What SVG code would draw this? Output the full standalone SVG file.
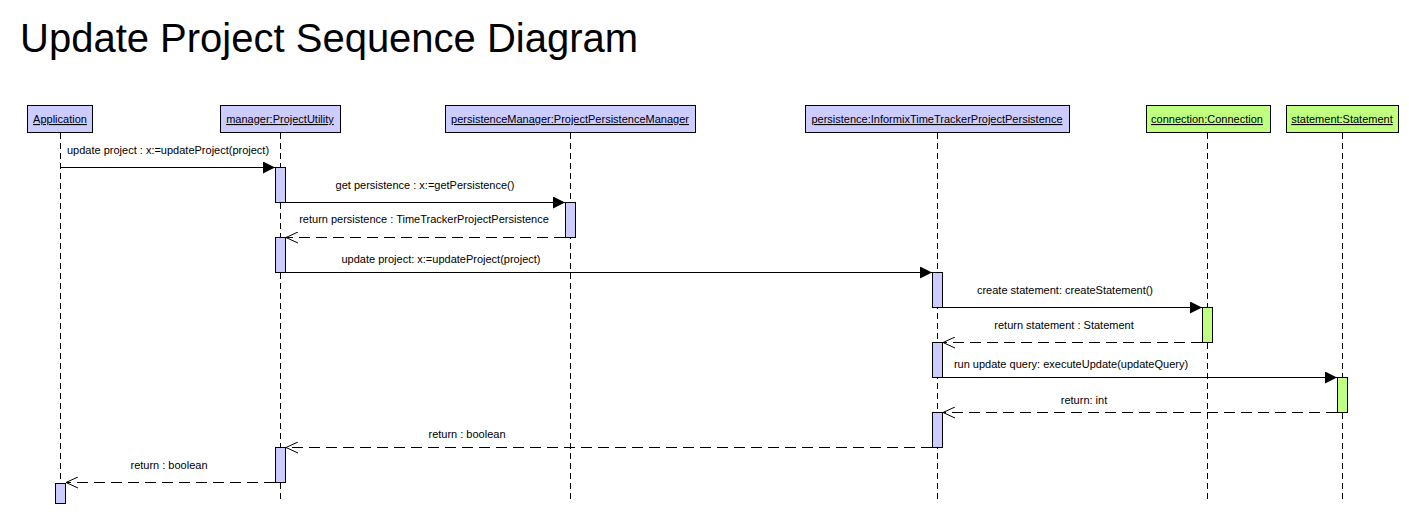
<svg xmlns="http://www.w3.org/2000/svg" width="1409" height="514" viewBox="0 0 1409 514">
<style>
text{font-family:"Liberation Sans",Arial,sans-serif;fill:#000}
.title{font-size:40px}
.lbl{font-size:11px;text-decoration:underline}
.msg{font-size:11px}
.box{fill:#CCCCFF;stroke:#000;stroke-width:1}
.gbox{fill:#C0FF80;stroke:#000;stroke-width:1}
.life{stroke:#000;stroke-width:1;stroke-dasharray:6,4;fill:none}
.act{fill:#CCCCFF;stroke:#000;stroke-width:1}
.gact{fill:#C0FF80;stroke:#000;stroke-width:1}
.call{stroke:#000;stroke-width:1;fill:none}
.ret{stroke:#000;stroke-width:1;fill:none;stroke-dasharray:11,6}
</style>
<defs>
<marker id="filled" markerWidth="13" markerHeight="12" refX="12" refY="6" orient="auto" markerUnits="userSpaceOnUse">
<path d="M0,0 L12,6 L0,12 Z" fill="#000"/>
</marker>
<marker id="open" markerWidth="13" markerHeight="12" refX="12" refY="6" orient="auto" markerUnits="userSpaceOnUse">
<path d="M0,0.5 L12,6 L0,11.5" fill="none" stroke="#000" stroke-width="1"/>
</marker>
</defs>
<rect width="1409" height="514" fill="#fff"/>
<text class="title" x="20" y="52">Update Project Sequence Diagram</text>

<g id="node-application">
<rect class="box" x="27.5" y="105.5" width="65" height="27"/>
<text class="lbl" x="60" y="123" text-anchor="middle">Application</text>
<line class="life" x1="60.5" y1="133" x2="60.5" y2="483"/>
<rect class="act" x="55.5" y="483.5" width="10" height="20"/>
</g>

<g id="node-manager">
<rect class="box" x="220.5" y="105.5" width="120" height="27"/>
<text class="lbl" x="280" y="123" text-anchor="middle">manager:ProjectUtility</text>
<line class="life" x1="280.5" y1="133" x2="280.5" y2="501"/>
<rect class="act" x="275.5" y="167.5" width="10" height="35"/>
<rect class="act" x="275.5" y="237.5" width="10" height="35"/>
<rect class="act" x="275.5" y="447.5" width="10" height="35"/>
</g>

<g id="node-persistenceManager">
<rect class="box" x="445.5" y="105.5" width="250" height="27"/>
<text class="lbl" x="570" y="123" text-anchor="middle">persistenceManager:ProjectPersistenceManager</text>
<line class="life" x1="570.5" y1="133" x2="570.5" y2="501"/>
<rect class="act" x="565.5" y="202.5" width="10" height="35"/>
</g>

<g id="node-persistence">
<rect class="box" x="805.5" y="105.5" width="264" height="27"/>
<text class="lbl" x="937" y="123" text-anchor="middle">persistence:InformixTimeTrackerProjectPersistence</text>
<line class="life" x1="937.5" y1="133" x2="937.5" y2="501"/>
<rect class="act" x="932.5" y="272.5" width="10" height="35"/>
<rect class="act" x="932.5" y="342.5" width="10" height="35"/>
<rect class="act" x="932.5" y="412.5" width="10" height="35"/>
</g>

<g id="node-connection">
<rect class="gbox" x="1146.5" y="105.5" width="124" height="27"/>
<text class="lbl" x="1207" y="123" text-anchor="middle">connection:Connection</text>
<line class="life" x1="1207.5" y1="133" x2="1207.5" y2="501"/>
<rect class="gact" x="1202.5" y="307.5" width="10" height="35"/>
</g>

<g id="node-statement">
<rect class="gbox" x="1286.5" y="105.5" width="112" height="27"/>
<text class="lbl" x="1342" y="123" text-anchor="middle">statement:Statement</text>
<line class="life" x1="1342.5" y1="133" x2="1342.5" y2="501"/>
<rect class="gact" x="1337.5" y="377.5" width="10" height="35"/>
</g>

<g id="connectors">
<line class="call" x1="60" y1="167.5" x2="275" y2="167.5" marker-end="url(#filled)"/>
<text class="msg" x="67" y="154">update project : x:=updateProject(project)</text>

<line class="call" x1="286" y1="202.5" x2="565" y2="202.5" marker-end="url(#filled)"/>
<text class="msg" x="425" y="189" text-anchor="middle">get persistence : x:=getPersistence()</text>

<line class="ret" x1="565" y1="237.5" x2="286" y2="237.5" marker-end="url(#open)"/>
<text class="msg" x="424" y="223" text-anchor="middle">return persistence : TimeTrackerProjectPersistence</text>

<line class="call" x1="286" y1="272.5" x2="932" y2="272.5" marker-end="url(#filled)"/>
<text class="msg" x="441" y="263" text-anchor="middle">update project: x:=updateProject(project)</text>

<line class="call" x1="943" y1="307.5" x2="1202" y2="307.5" marker-end="url(#filled)"/>
<text class="msg" x="1065" y="294" text-anchor="middle">create statement: createStatement()</text>

<line class="ret" x1="1202" y1="342.5" x2="943" y2="342.5" marker-end="url(#open)"/>
<text class="msg" x="1064" y="329" text-anchor="middle">return statement : Statement</text>

<line class="call" x1="943" y1="377.5" x2="1337" y2="377.5" marker-end="url(#filled)"/>
<text class="msg" x="1071" y="368" text-anchor="middle">run update query: executeUpdate(updateQuery)</text>

<line class="ret" x1="1337" y1="412.5" x2="943" y2="412.5" marker-end="url(#open)"/>
<text class="msg" x="1084" y="404" text-anchor="middle">return: int</text>

<line class="ret" x1="932" y1="447.5" x2="286" y2="447.5" marker-end="url(#open)"/>
<text class="msg" x="467" y="438" text-anchor="middle">return : boolean</text>

<line class="ret" x1="275" y1="482.5" x2="66" y2="482.5" marker-end="url(#open)"/>
<text class="msg" x="169" y="469" text-anchor="middle">return : boolean</text>
</g>
</svg>
